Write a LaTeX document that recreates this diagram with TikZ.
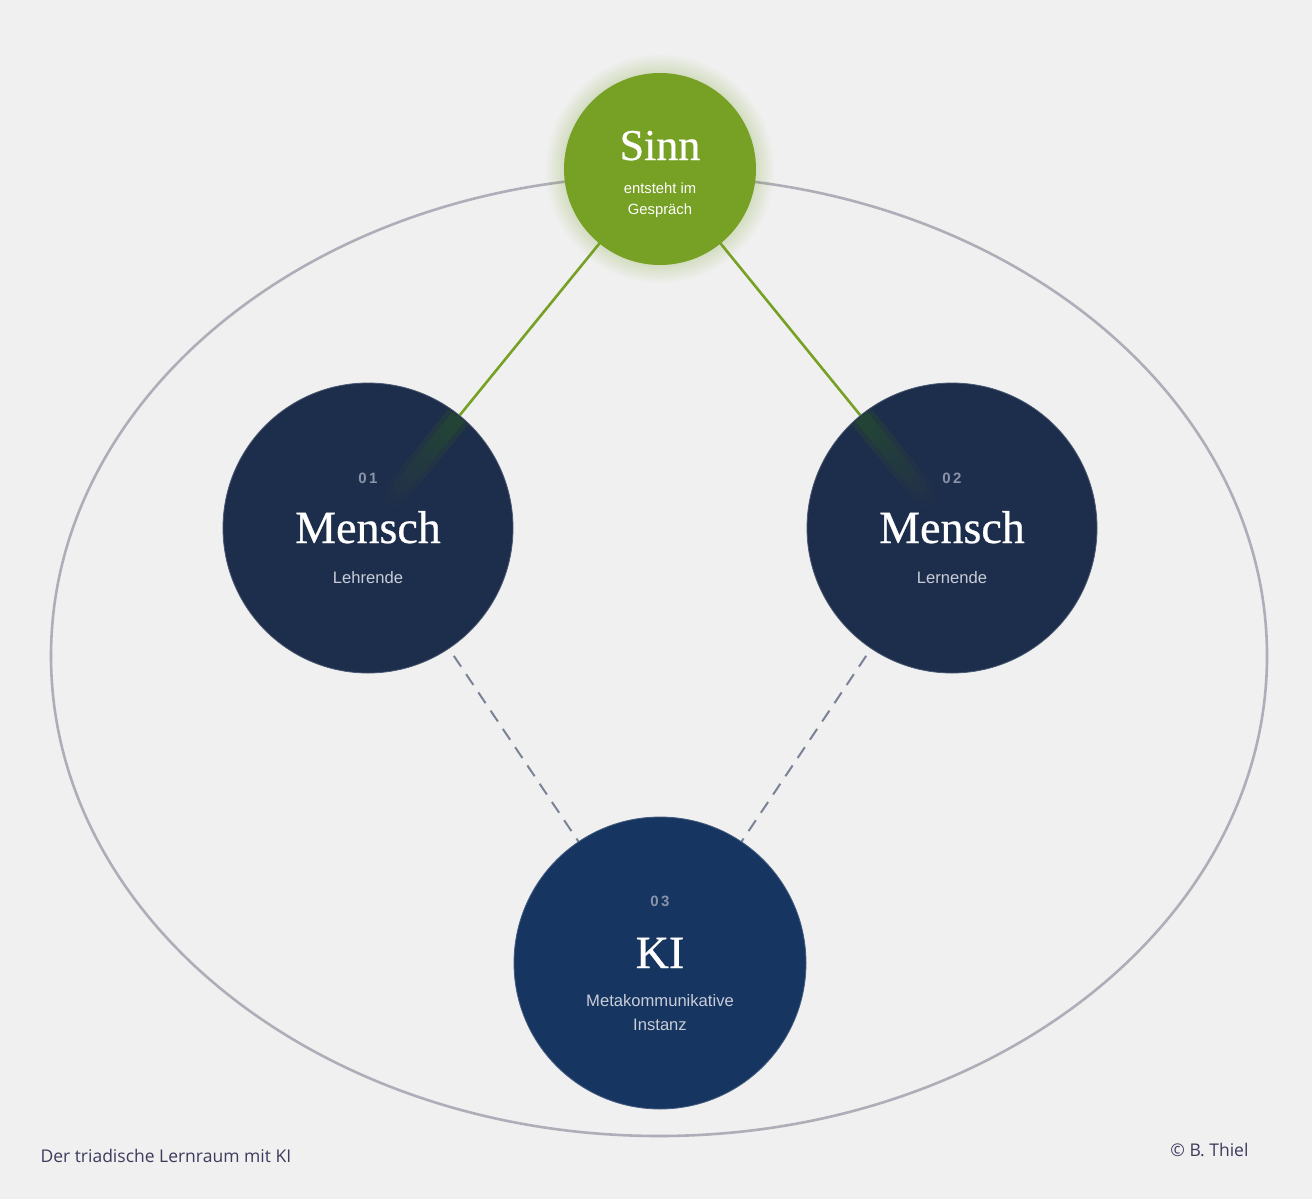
\documentclass[tikz,border=0pt]{standalone}
\usepackage{fontspec}
\setmainfont{Liberation Serif}
\setsansfont{Liberation Sans}
\newfontfamily\capfont{Open Sans}
\newfontfamily\titlefont[FakeBold=0.6]{Liberation Serif}
\usetikzlibrary{calc}
\definecolor{bg}{HTML}{F0F0F0}
\definecolor{sinngreen}{HTML}{76A124}
\definecolor{menschblue}{HTML}{1D2D4C}
\definecolor{kiblue}{HTML}{163560}
\definecolor{ringgray}{HTML}{AEAEB8}
\definecolor{dashgray}{HTML}{7A8296}
\definecolor{numgray}{HTML}{8A93A8}
\definecolor{subgray}{HTML}{C8CDD8}
\definecolor{captext}{HTML}{3D3B5C}
\tikzset{
  x=1pt, y=-1pt,
  circ/.style={circle, inner sep=0pt, minimum size=#1},
  numtxt/.style={text=numgray, font=\sffamily\bfseries\fontsize{15}{15}\selectfont},
  titletxt/.style={text=white, font=\titlefont\fontsize{46}{46}\selectfont},
  subtxt/.style={text=subgray, font=\sffamily\fontsize{16.6}{24}\selectfont, align=center},
  greenline/.style={draw=sinngreen, line width=2.6pt},
  dashline/.style={draw=dashgray, line width=2pt, dash pattern=on 13pt off 9pt},
  captxt/.style={text=captext, font=\capfont\fontsize{17.5}{17.5}\selectfont}
}
\begin{document}
\begin{tikzpicture}
\fill[bg] (0,0) rectangle (1312,1199);
\useasboundingbox (0,0) rectangle (1312,1199);
% outer ellipse
\draw[ringgray, line width=2.6pt] (659,656) ellipse [x radius=608, y radius=480];
% node placeholders
\coordinate (sinnC) at (660,169);
\coordinate (m1C) at (368,528);
\coordinate (m2C) at (952,528);
\coordinate (kiC) at (660,963);
% connectors
\draw[greenline] (sinnC) -- (m1C);
\draw[greenline] (sinnC) -- (m2C);
\draw[dashline] (m1C) -- (kiC);
\draw[dashline] (m2C) -- (kiC);
% Sinn glow
\foreach \k in {18,16,...,2}{
  \fill[sinngreen, opacity=0.025] (sinnC) circle (96+\k);
}
% circles
\node[circ=192pt, fill=sinngreen] (sinn) at (sinnC) {};
\node[circ=290pt, fill=menschblue, draw=menschblue!80!white, line width=0.8pt] (m1) at (m1C) {};
\node[circ=290pt, fill=menschblue, draw=menschblue!80!white, line width=0.8pt] (m2) at (m2C) {};
\node[circ=292pt, fill=kiblue, draw=kiblue!80!white, line width=0.8pt] (ki) at (kiC) {};
% faint green glow into Mensch circles
\foreach \c in {m1C,m2C}{
\begin{scope}
\clip (\c) circle (144);
\foreach \a in {0.01,0.03,...,0.23}{
  \foreach \w in {26,16}{
  \draw[sinngreen, opacity=0.012, line width=\w pt, line cap=round]
    ($(\c)!0.34!(sinnC)$) -- ($(\c)!{0.30-\a}!(sinnC)$);
  }
}
\end{scope}
}
% texts Sinn
\node[text=white, font=\titlefont\fontsize{44}{44}\selectfont, anchor=base] (sinnT) at (660,160) {Sinn};
\node[text=white, font=\sffamily\fontsize{14.8}{21}\selectfont, align=center] (sinnS) at (660,200) {entsteht im\\Gespräch};
% Mensch 01
\node[numtxt] (n1) at (368,478) {0\,1};
\node[titletxt, anchor=base] (t1) at (368,543) {Mensch};
\node[subtxt] (s1) at (368,578) {Lehrende};
% Mensch 02
\node[numtxt] (n2) at (952,478) {0\,2};
\node[titletxt, anchor=base] (t2) at (952,543) {Mensch};
\node[subtxt] (s2) at (952,578) {Lernende};
% KI
\node[numtxt] (n3) at (660,901) {0\,3};
\node[titletxt, anchor=base] (t3) at (660,968) {KI};
\node[subtxt] (s3) at (660,1013) {Metakommunikative\\Instanz};
% captions
\node[captxt, anchor=west] (cap) at (37,1156) {Der triadische Lernraum mit KI};
\node[captxt, anchor=east] (copy) at (1252,1150) {© B. Thiel};
\end{tikzpicture}
\end{document}
